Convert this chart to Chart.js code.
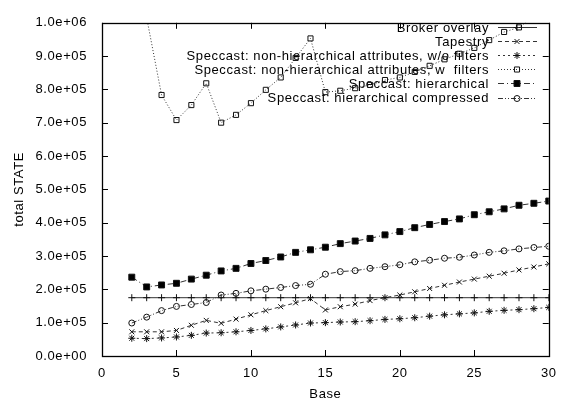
<!DOCTYPE html>
<html>
<head>
<meta charset="utf-8">
<script src="https://cdn.jsdelivr.net/npm/chart.js@4/dist/chart.umd.min.js"></script>
<style>
html,body{margin:0;padding:0;background:#fff;}
canvas{display:block;}
</style>
</head>
<body>
<canvas id="c" width="566" height="403"></canvas>
<script>
const bases = [2,3,4,5,6,7,8,9,10,11,12,13,14,15,16,17,18,19,20,21,22,23,24,25,26,27,28,29,30];
const brokerOverlay = [175000,175000,175000,175000,175000,175000,175000,175000,175000,175000,175000,175000,175000,175000,175000,175000,175000,175000,175000,175000,175000,175000,175000,175000,175000,175000,175000,175000,175000];
const tapestry = [72600,72600,72600,76700,92200,106900,98100,110700,123600,136200,147900,159600,172200,138200,147900,155700,166300,175100,183000,192700,202600,212300,222000,230800,239600,248400,258300,267100,276700];
const nonHierNoFilters = [53300,52200,54200,57100,62000,68800,69800,72600,76700,81400,87300,93100,99000,100100,102000,103000,106000,109800,111800,114800,119600,123600,126500,129400,134100,137000,139100,142000,145800];
const nonHierFilters = [1300000,1015000,783300,708100,753100,818400,700300,723700,758800,798800,836000,894600,953100,792000,796000,803800,813600,828200,836000,852600,870900,890400,907100,924700,948100,972500,986200,1020000,1050000];
const hierarchical = [236600,207300,213200,218200,230800,242500,255300,263000,277700,286500,297200,311000,318700,326500,337300,345000,352900,363600,373400,385100,394800,403500,411400,424000,432800,441600,452400,458300,465000];
const hierCompressed = [99000,116600,136200,148800,154600,160500,183000,188000,195600,200600,205600,211400,215200,245400,253300,256200,263000,268000,273800,282600,287500,293400,296300,303100,311000,315700,321500,325600,329400];

const seriesNames = [
  "Broker overlay",
  "Tapestry",
  "Speccast: non-hierarchical attributes, w/o filters",
  "Speccast: non-hierarchical attributes, w  filters",
  "Speccast: hierarchical",
  "Speccast: hierarchical compressed"
];
const xTicks = [0,5,10,15,20,25,30];
const yTicks = [0,100000,200000,300000,400000,500000,600000,700000,800000,900000,1000000];

const FONT = "'Liberation Sans', Arial, Helvetica, sans-serif";
const FS = 13;
const LS = '0.6px';

function fmtExp(v){
  if (v === 0) return '0.0e+00';
  const e = Math.floor(Math.log10(Math.abs(v)) + 1e-9);
  const m = v / Math.pow(10, e);
  return m.toFixed(1) + 'e' + (e < 0 ? '-' : '+') + String(Math.abs(e)).padStart(2,'0');
}
function pts(arr){ return bases.map((b,i)=>({x:b, y:arr[i]})); }

const styles = [
  {data: brokerOverlay, dash: [], pointStyle: 'cross', r: 3.5, fill: false},
  {data: tapestry, dash: [4,3], pointStyle: 'crossRot', r: 3.5, fill: false},
  {data: nonHierNoFilters, dash: [2,3], pointStyle: 'star', r: 3.5, fill: false},
  {data: nonHierFilters, dash: [1,2], pointStyle: 'rect', r: 3.6, fill: false},
  {data: hierarchical, dash: [6,3,1,3], pointStyle: 'rect', r: 4.2, fill: true},
  {data: hierCompressed, dash: [5,2,1,2,1,2], pointStyle: 'circle', r: 3, fill: false}
];

const datasets = styles.map((s,i)=>({
  label: seriesNames[i],
  data: pts(s.data),
  borderColor: '#333',
  borderWidth: 1,
  borderDash: s.dash,
  pointStyle: s.pointStyle,
  pointRadius: s.r,
  pointHoverRadius: s.r,
  pointBorderColor: '#111',
  pointBorderWidth: 1,
  pointBackgroundColor: s.fill ? '#000' : 'rgba(0,0,0,0)',
  fill: false,
  tension: 0
}));

const framePlugin = {
  id: 'frame',
  beforeDraw(chart){
    chart.ctx.letterSpacing = LS;
  },
  beforeDatasetsDraw(chart){
    const ctx = chart.ctx;
    const a = chart.chartArea;
    const xs = chart.scales.x, ys = chart.scales.y;
    ctx.save();
    ctx.strokeStyle = '#000';
    ctx.lineWidth = 1;
    ctx.setLineDash([]);
    ctx.beginPath();
    const tl = 6;
    xTicks.forEach(t=>{
      const px = Math.round(xs.getPixelForValue(t)) + 0.5;
      ctx.moveTo(px, a.bottom); ctx.lineTo(px, a.bottom - tl);
      ctx.moveTo(px, a.top); ctx.lineTo(px, a.top + tl);
    });
    yTicks.forEach(t=>{
      const py = Math.round(ys.getPixelForValue(t)) + 0.5;
      ctx.moveTo(a.left, py); ctx.lineTo(a.left + tl, py);
      ctx.moveTo(a.right, py); ctx.lineTo(a.right - tl, py);
    });
    ctx.stroke();
    // legend
    ctx.letterSpacing = LS;
    ctx.font = FS + 'px ' + FONT;
    ctx.fillStyle = '#000';
    ctx.textAlign = 'right';
    ctx.textBaseline = 'middle';
    const textRight = 489, sx0 = 498, sx1 = 537, mx = 517;
    chart.data.datasets.forEach((ds,i)=>{
      const y = 27 + i*14.1;
      ctx.fillStyle = '#000';
      ctx.fillText(ds.label, textRight, y + 1);
      ctx.beginPath();
      ctx.setLineDash(ds.borderDash);
      ctx.strokeStyle = ds.borderColor;
      ctx.lineWidth = 1;
      ctx.moveTo(sx0, Math.round(y)+0.5); ctx.lineTo(sx1, Math.round(y)+0.5);
      ctx.stroke();
      ctx.setLineDash([]);
      ctx.strokeStyle = ds.pointBorderColor;
      ctx.fillStyle = ds.pointBackgroundColor;
      if (Chart.helpers && Chart.helpers.drawPoint) {
        Chart.helpers.drawPoint(ctx, {pointStyle: ds.pointStyle, radius: ds.pointRadius, rotation: 0, borderWidth: 1}, mx, Math.round(y)+0.5);
      }
    });
    ctx.restore();
  },
  afterDraw(chart){
    const ctx = chart.ctx;
    const a = chart.chartArea;
    ctx.save();
    ctx.strokeStyle = '#000';
    ctx.lineWidth = 1.3;
    ctx.setLineDash([]);
    ctx.strokeRect(Math.round(a.left)+0.5, Math.round(a.top)+0.5, Math.round(a.right)-Math.round(a.left), Math.round(a.bottom)-Math.round(a.top));
    ctx.restore();
  }
};

new Chart(document.getElementById('c'), {
  type: 'line',
  data: { datasets },
  options: {
    responsive: false,
    animation: false,
    devicePixelRatio: 1,
    layout: { padding: { left: 0, right: 12, top: 15, bottom: 0 } },
    plugins: { legend: { display: false }, tooltip: { enabled: false } },
    scales: {
      x: {
        type: 'linear', min: 0, max: 30,
        afterBuildTicks(s){ s.ticks = xTicks.map(v=>({value:v})); },
        afterFit(s){ s.height = 47; },
        grid: { display: false, drawTicks: false },
        border: { display: false },
        ticks: { color: '#000', font: { family: FONT, size: FS }, padding: 10, maxRotation: 0, callback: v => String(v) },
        title: { display: true, text: 'Base', color: '#000', font: { family: FONT, size: FS }, padding: { top: 4, bottom: 1 } }
      },
      y: {
        type: 'linear', min: 0, max: 1000000,
        afterBuildTicks(s){ s.ticks = yTicks.map(v=>({value:v})); },
        afterFit(s){ s.width = 102; },
        grid: { display: false, drawTicks: false },
        border: { display: false },
        ticks: { color: '#000', font: { family: FONT, size: FS }, padding: 15, callback: v => fmtExp(v) },
        title: { display: true, text: 'total STATE', color: '#000', font: { family: FONT, size: FS }, padding: { top: 12, bottom: 4 } }
      }
    }
  },
  plugins: [framePlugin]
});
</script>
</body>
</html>
